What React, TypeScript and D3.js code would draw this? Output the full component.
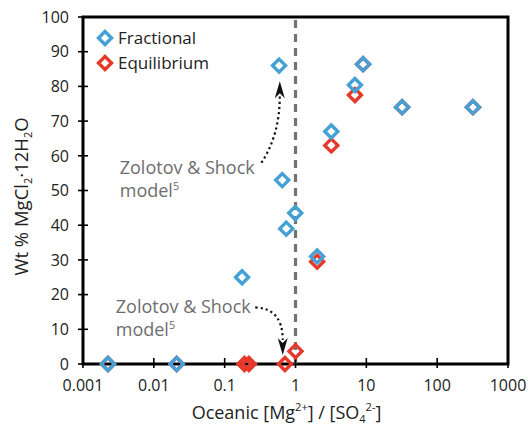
import * as d3 from "d3";

const xTicks = [0.001, 0.01, 0.1, 1, 10, 100, 1000];
const xTickLabels = ["0.001", "0.01", "0.1", "1", "10", "100", "1000"];
const yTicks = [0, 10, 20, 30, 40, 50, 60, 70, 80, 90, 100];

const fractionalX = [0.00225, 0.021, 0.176, 0.586, 0.65, 0.74, 0.99, 2.02, 3.2, 6.9, 9.0, 32, 320];
const fractionalY = [0, 0, 25, 86, 53, 39, 43.5, 31, 67, 80.4, 86.4, 74, 74];
const equilibriumX = [0.00225, 0.021, 0.19, 0.22, 0.71, 1.0, 2.02, 3.2, 6.9, 9.0, 32, 320];
const equilibriumY = [0, 0, 0, 0, 0, 3.7, 29.5, 63, 77.5, 86.4, 74, 74];

const boundary = 1; // [Mg]/[SO4] = 1

const BLUE = "#45a0d6";
const RED = "#e5392b";
const GREY = "#6e6e6e";
const FONT = "'Open Sans', 'Noto Sans', sans-serif";

const W = 528;
const H = 429;
const m = { top: 17, right: 20, bottom: 65, left: 83 };

const x = d3.scaleLog().domain([0.001, 1000]).range([m.left, W - m.right]);
const y = d3.scaleLinear().domain([0, 100]).range([H - m.bottom, m.top]);

const diamond = (cx: number, cy: number, r = 6.5) =>
  `M${cx},${cy - r}L${cx + r},${cy}L${cx},${cy + r}L${cx - r},${cy}Z`;

// dotted curve + arrowhead, positions given in data units
function Arrow({
  from,
  ctrl,
  to,
  dir,
}: {
  from: [number, number];
  ctrl: [number, number];
  to: [number, number];
  dir: "up" | "down";
}) {
  const p = d3.path();
  const fx = x(from[0]), fy = y(from[1]);
  const tx = x(to[0]), ty = y(to[1]);
  const len = 15;
  const baseY = dir === "up" ? ty + len : ty - len;
  p.moveTo(fx, fy);
  p.quadraticCurveTo(x(ctrl[0]), y(ctrl[1]), tx, baseY);
  const s = dir === "up" ? 1 : -1;
  const head = `M${tx},${ty}L${tx + 5},${ty + s * (len + 2)}L${tx},${ty + s * (len - 3)}L${tx - 5},${ty + s * (len + 2)}Z`;
  return (
    <g>
      <path d={p.toString()} fill="none" stroke="#111" strokeWidth={2.2} strokeDasharray="2.2,3" />
      <path d={head} fill="#111" />
    </g>
  );
}

function Note({ px, py }: { px: number; py: number }) {
  return (
    <text x={x(px)} y={y(py)} fill={GREY} fontSize={18} fontFamily={FONT}>
      <tspan x={x(px)}>Zolotov &amp; Shock</tspan>
      <tspan x={x(px)} dy={23}>model</tspan>
      <tspan fontSize={11} dy={-7}>5</tspan>
    </text>
  );
}

export default function App() {
  const fracPts = fractionalX.map((v, i) => [v, fractionalY[i]]);
  const eqPts = equilibriumX.map((v, i) => [v, equilibriumY[i]]);
  const [x0, x1] = x.range();
  const [y0, y1] = y.range();

  return (
    <svg
      width={W}
      height={H}
      style={{ position: "absolute", left: 0, top: 0, background: "#fff" }}
      fontFamily={FONT}
    >
      {/* frame */}
      <rect x={x0} y={y1} width={x1 - x0} height={y0 - y1} fill="none" stroke="#000" strokeWidth={3} />

      {/* boundary line */}
      <line
        x1={x(boundary)}
        x2={x(boundary)}
        y1={y1 + 3}
        y2={y0}
        stroke="#737373"
        strokeWidth={3.2}
        strokeDasharray="8,6"
      />

      {/* y axis */}
      {yTicks.map((t) => (
        <g key={t}>
          <line x1={x0 - 5} x2={x0 + 5} y1={y(t)} y2={y(t)} stroke="#000" strokeWidth={1.6} />
          <text x={x0 - 14} y={y(t)} dy="0.36em" textAnchor="end" fontSize={16} fill="#222">
            {t}
          </text>
        </g>
      ))}

      {/* x axis */}
      {xTicks.map((t, i) => (
        <g key={t}>
          <line x1={x(t)} x2={x(t)} y1={y0 - 6} y2={y0 + 4} stroke="#000" strokeWidth={1.6} />
          <text x={x(t)} y={y0 + 27} textAnchor="middle" fontSize={16} fill="#222">
            {xTickLabels[i]}
          </text>
        </g>
      ))}

      {/* axis titles */}
      <text x={(x0 + x1) / 2 - 9} y={H - 10} textAnchor="middle" fontSize={18} fill="#222">
        Oceanic [Mg<tspan fontSize={11} dy={-8}>2+</tspan>
        <tspan dy={8}>] / [SO</tspan>
        <tspan fontSize={11} dy={4}>4</tspan>
        <tspan fontSize={11} dy={-12}>2-</tspan>
        <tspan dy={8}>]</tspan>
      </text>
      <text transform={`translate(28,${(y0 + y1) / 2 + 6}) rotate(-90)`} textAnchor="middle" fontSize={18.5} fill="#222">
        Wt % MgCl<tspan fontSize={11} dy={4}>2</tspan>
        <tspan dy={-4}>·12H</tspan>
        <tspan fontSize={11} dy={4}>2</tspan>
        <tspan dy={-4}>O</tspan>
      </text>

      {/* annotations */}
      <Note px={0.0033} py={54.8} />
      <Arrow from={[0.33, 58]} ctrl={[0.6, 66]} to={[0.6, 81.5]} dir="up" />
      <Note px={0.0029} py={14.7} />
      <Arrow from={[0.27, 16.3]} ctrl={[0.66, 16]} to={[0.66, 2.6]} dir="down" />

      {/* data */}
      {eqPts.map((d, i) => (
        <path key={"e" + i} d={diamond(x(d[0]), y(d[1]))} fill="none" stroke={RED} strokeWidth={3.4} />
      ))}
      {fracPts.map((d, i) => (
        <path key={"f" + i} d={diamond(x(d[0]), y(d[1]))} fill="none" stroke={BLUE} strokeWidth={3.4} />
      ))}

      {/* legend */}
      <path d={diamond(105, 38)} fill="none" stroke={BLUE} strokeWidth={3.4} />
      <text x={118} y={38} dy="0.35em" fontSize={17} fill="#222">Fractional</text>
      <path d={diamond(105, 63)} fill="none" stroke={RED} strokeWidth={3.4} />
      <text x={118} y={63} dy="0.35em" fontSize={17} fill="#222">Equilibrium</text>
    </svg>
  );
}
